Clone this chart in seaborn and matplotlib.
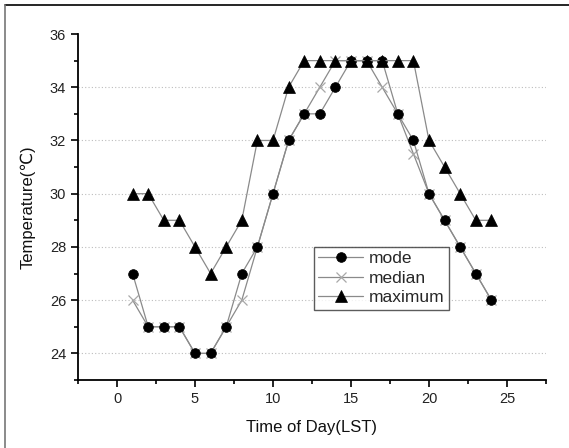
import numpy as np
import pandas as pd
import matplotlib
matplotlib.use("Agg")
import matplotlib.pyplot as plt
import seaborn as sns
from matplotlib.ticker import MultipleLocator
from matplotlib.lines import Line2D

hours = list(range(1, 25))
mode = [27, 25, 25, 25, 24, 24, 25, 27, 28, 30, 32, 33, 33, 34, 35, 35, 35, 33, 32, 30, 29, 28, 27, 26]
median = [26, 25, 25, 25, 24, 24, 25, 26, 28, 30, 32, 33, 34, 35, 35, 35, 34, 33, 31.5, 30, 29, 28, 27, 26]
maximum = [30, 30, 29, 29, 28, 27, 28, 29, 32, 32, 34, 35, 35, 35, 35, 35, 35, 35, 35, 32, 31, 30, 29, 29]
series_names = ["mode", "median", "maximum"]

df = pd.DataFrame({"hour": hours * 3,
                   "temp": mode + median + maximum,
                   "series": sum([[n] * len(hours) for n in series_names], [])})

sns.set_style("white")
plt.rcParams['font.family'] = ['Liberation Sans', 'DejaVu Sans']

fig = plt.figure(figsize=(5.69, 4.48), dpi=100)
ax = fig.add_axes([78/569, 1-380/448, (546-78)/569, (380-34)/448])

line_gray = "#8a8a8a"
styles = {
    "mode": dict(marker="o", ms=7, mfc="black", mec="black", mew=0.5),
    "median": dict(marker="x", ms=6.5, mfc="none", mec="#a8a8a8", mew=0.9),
    "maximum": dict(marker="^", ms=8, mfc="black", mec="black", mew=0.5),
}

for name in ["median", "mode", "maximum"]:
    sub = df[df.series == name]
    sns.lineplot(data=sub, x="hour", y="temp", ax=ax, color=line_gray,
                 linewidth=0.9, legend=False, **styles[name])

ax.set_xlim(-2.5, 27.5)
ax.set_ylim(23, 36)
ax.xaxis.set_major_locator(MultipleLocator(5))
ax.xaxis.set_minor_locator(MultipleLocator(2.5))
ax.yaxis.set_minor_locator(MultipleLocator(1))
ax.set_yticks([24, 26, 28, 30, 32, 34, 36])

ax.tick_params(axis="both", which="major", direction="out", length=5, width=1.2,
               colors="black", labelsize=10.5, bottom=True, left=True)
ax.tick_params(axis="both", which="minor", direction="out", length=3, width=1.2,
               colors="black", bottom=True, left=True)
ax.tick_params(axis="x", labelcolor="#222222")
ax.tick_params(axis="y", labelcolor="#222222")

for s in ["top", "right"]:
    ax.spines[s].set_visible(False)
for s in ["left", "bottom"]:
    ax.spines[s].set_color("black")
    ax.spines[s].set_linewidth(1.3)

ax.yaxis.grid(True, linestyle=(0, (1, 2)), color="#bdbdbd", linewidth=0.8)
ax.xaxis.grid(False)
for t, g in zip(ax.get_yticks(), ax.get_ygridlines()):
    if t >= 36:
        g.set_visible(False)

ax.set_xlabel("Time of Day(LST)", fontsize=12, color="#111111", labelpad=10)
ax.set_ylabel("Temperature(℃)", fontsize=12, color="#111111", labelpad=10)

handles = [Line2D([], [], color=line_gray, linewidth=0.9, **styles[n]) for n in series_names]
leg = ax.legend(handles, series_names, loc="upper left",
                bbox_to_anchor=((314-78)/(546-78), 1-(247-34)/(380-34)),
                fontsize=12.5, frameon=True, fancybox=False, borderpad=0.25,
                handlelength=2.6, handletextpad=0.3, labelspacing=0.25,
                borderaxespad=0)
leg.get_frame().set_edgecolor("#333333")
leg.get_frame().set_linewidth(1.0)

# figure border (top and left)
fig.add_artist(Line2D([5/569, 1], [1-5/448, 1-5/448], color="black", linewidth=1.2, transform=fig.transFigure))
fig.add_artist(Line2D([5/569, 5/569], [0, 1-5/448], color="#777777", linewidth=1.2, transform=fig.transFigure))

fig.savefig("out.png", dpi=100)
